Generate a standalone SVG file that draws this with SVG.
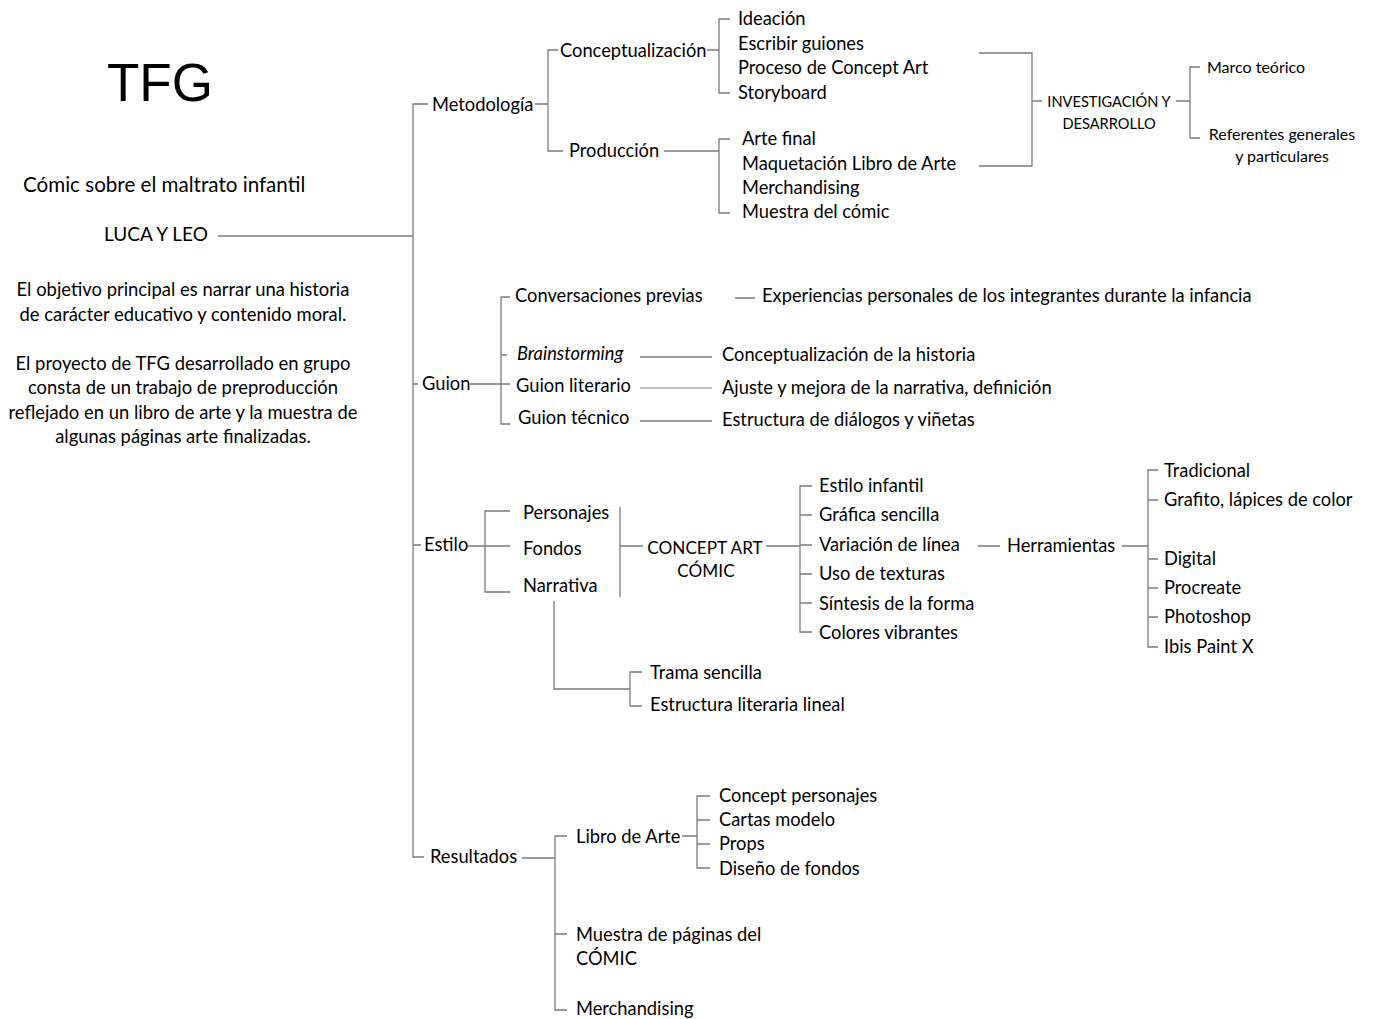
<svg xmlns="http://www.w3.org/2000/svg" width="1373" height="1019" viewBox="0 0 1373 1019">
<style>
text{font-family:Lato,"Open Sans","Noto Sans",sans-serif;fill:#000;font-size:18.3px}
.s{font-size:14.6px}
.r{font-size:16px}
.b{font-size:19px}
.p{font-size:18.4px}
.k{font-size:17.2px}
.c{text-anchor:middle}
.title{font-family:"Liberation Sans",sans-serif;font-size:53px}
#connectors path{fill:none;stroke:#7a7a7a;stroke-width:1.3}
.lt{stroke:#aaa !important}
</style>
<rect width="1373" height="1019" fill="#fff"/>
<g id="connectors">
<path d="M218 236H413M428 104H413V857H424M413 384H418M413 545H421"/>
<path d="M535 104H548M558 50H548V151H563M707 50H719M730 19H719V93H730M664 151H719M730 139H719V213H730"/>
<path d="M979 53H1032V166H979M1032 101H1042M1176 101H1190M1200 67H1190V138H1200"/>
<path d="M470 384H501M510 297H501V424H510M501 355H507M501 384H510"/>
<path d="M735 298H755M640 357H712M640 421H712"/>
<path class="lt" d="M640 388H712"/>
<path d="M468 546H485M510 511H485V592H510M485 546H510"/>
<path d="M620 507V597M620 546H643M766 546H800M812 486H800V632H812M800 515H812M800 545H812M800 574H812M800 603H812"/>
<path d="M978 546H1000M1122 546H1148M1158 470H1148V647H1158M1148 500H1158M1148 559H1158M1148 588H1158M1148 617H1158"/>
<path d="M554 601V689H630M642 672H630V706H642"/>
<path d="M522 858H555M567 836H555V1010H567M555 934H567M682 836H697M710 796H697V868H710M697 820H710M697 844H710"/>
</g>
<g id="root">
<text class="title" x="107" y="101">TFG</text>
<text x="23" y="192" style="font-size:20.6px">Cómic sobre el maltrato infantil</text>
<text class="b" x="104" y="241">LUCA Y LEO</text>
<text class="p c" x="183" y="296">El objetivo principal es narrar una historia</text>
<text class="p c" x="183" y="321">de carácter educativo y contenido moral.</text>
<text class="p c" x="183" y="370">El proyecto de TFG desarrollado en grupo</text>
<text class="p c" x="183" y="394">consta de un trabajo de preproducción</text>
<text class="p c" x="183" y="419">reflejado en un libro de arte y la muestra de</text>
<text class="p c" x="183" y="443">algunas páginas arte finalizadas.</text>
</g>
<g id="metodologia">
<text x="432" y="111">Metodología</text>
<text x="560" y="57">Conceptualización</text>
<text x="738" y="25">Ideación</text>
<text x="738" y="50">Escribir guiones</text>
<text x="738" y="74">Proceso de Concept Art</text>
<text x="738" y="99">Storyboard</text>
<text x="569" y="157">Producción</text>
<text x="742" y="145">Arte final</text>
<text x="742" y="170">Maquetación Libro de Arte</text>
<text x="742" y="194">Merchandising</text>
<text x="742" y="218">Muestra del cómic</text>
</g>
<g id="investigacion">
<text class="s c" x="1109" y="107">INVESTIGACIÓN Y</text>
<text class="s c" x="1109" y="129">DESARROLLO</text>
<text class="r" x="1207" y="73">Marco teórico</text>
<text class="r c" x="1282" y="140">Referentes generales</text>
<text class="r c" x="1282" y="162">y particulares</text>
</g>
<g id="guion">
<text x="422" y="390">Guion</text>
<text x="515" y="302">Conversaciones previas</text>
<text x="762" y="302">Experiencias personales de los integrantes durante la infancia</text>
<text x="517" y="360" font-style="italic">Brainstorming</text>
<text x="722" y="361">Conceptualización de la historia</text>
<text x="516" y="392">Guion literario</text>
<text x="722" y="394">Ajuste y mejora de la narrativa, definición</text>
<text x="518" y="424">Guion técnico</text>
<text x="722" y="426">Estructura de diálogos y viñetas</text>
</g>
<g id="estilo">
<text x="424" y="551">Estilo</text>
<text x="523" y="519">Personajes</text>
<text x="523" y="555">Fondos</text>
<text x="523" y="592">Narrativa</text>
<text class="k c" x="705" y="554">CONCEPT ART</text>
<text class="k c" x="706" y="577">CÓMIC</text>
<text x="819" y="492">Estilo infantil</text>
<text x="819" y="521">Gráfica sencilla</text>
<text x="819" y="551">Variación de línea</text>
<text x="819" y="580">Uso de texturas</text>
<text x="819" y="610">Síntesis de la forma</text>
<text x="819" y="639">Colores vibrantes</text>
<text x="1007" y="552">Herramientas</text>
<text x="1164" y="477">Tradicional</text>
<text x="1164" y="506">Grafito, lápices de color</text>
<text x="1164" y="565">Digital</text>
<text x="1164" y="594">Procreate</text>
<text x="1164" y="623">Photoshop</text>
<text x="1164" y="653">Ibis Paint X</text>
<text x="650" y="679">Trama sencilla</text>
<text x="650" y="711">Estructura literaria lineal</text>
</g>
<g id="resultados">
<text x="430" y="863">Resultados</text>
<text x="576" y="843">Libro de Arte</text>
<text x="719" y="802">Concept personajes</text>
<text x="719" y="826">Cartas modelo</text>
<text x="719" y="850">Props</text>
<text x="719" y="875">Diseño de fondos</text>
<text x="576" y="941">Muestra de páginas del</text>
<text x="576" y="965">CÓMIC</text>
<text x="576" y="1015">Merchandising</text>
</g>
</svg>
